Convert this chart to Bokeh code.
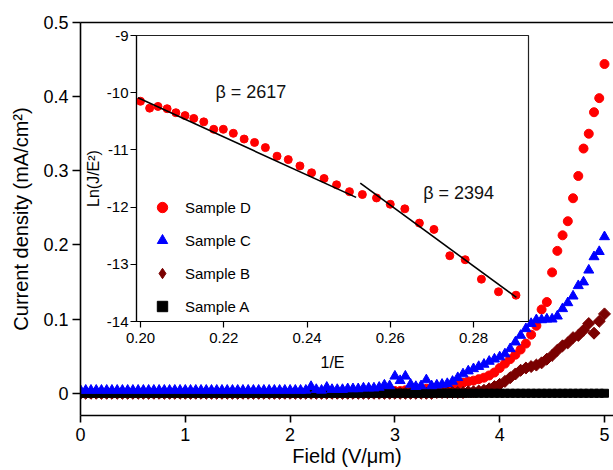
import math
from bokeh.plotting import figure
from bokeh.models import (GridBox, LinearAxis, FixedTicker, Legend, LegendItem,
                          Label, Range1d, ColumnDataSource)
from bokeh.embed import file_html
from bokeh.resources import INLINE

# ---------------- data ----------------
FIELD = [
    0.00, 0.05, 0.10, 0.15, 0.20, 0.25, 0.30, 0.35, 0.40, 0.45,
    0.50, 0.55, 0.60, 0.65, 0.70, 0.75, 0.80, 0.85, 0.90, 0.95,
    1.00, 1.05, 1.10, 1.15, 1.20, 1.25, 1.30, 1.35, 1.40, 1.45,
    1.50, 1.55, 1.60, 1.65, 1.70, 1.75, 1.80, 1.85, 1.90, 1.95,
    2.00, 2.05, 2.10, 2.15, 2.20, 2.25, 2.30, 2.35, 2.40, 2.45,
    2.50, 2.55, 2.60, 2.65, 2.70, 2.75, 2.80, 2.85, 2.90, 2.95,
    3.00, 3.05, 3.10, 3.15, 3.20, 3.25, 3.30, 3.35, 3.40, 3.45,
    3.50, 3.55, 3.60, 3.65, 3.70, 3.75, 3.80, 3.85, 3.90, 3.95,
    4.00, 4.05, 4.10, 4.15, 4.20, 4.25, 4.30, 4.35, 4.40, 4.45,
    4.50, 4.55, 4.60, 4.65, 4.70, 4.75, 4.80, 4.85, 4.90, 4.95,
    5.00,
]

N = None
SAMPLE_D = [
    0.000, 0.000, 0.000, 0.000, 0.000, 0.000, 0.000, 0.000, 0.000, 0.000,
    0.000, 0.000, 0.000, 0.000, 0.000, 0.000, 0.000, 0.000, 0.000, 0.000,
    0.000, 0.000, 0.000, 0.000, 0.000, 0.000, 0.000, 0.000, 0.000, 0.000,
    0.000, 0.000, 0.000, 0.000, 0.000, 0.000, 0.000, 0.000, 0.000, 0.000,
    0.000, 0.000, 0.000, 0.000, 0.000, 0.000, 0.000, 0.000, 0.000, 0.000,
    0.000, 0.000, 0.000, 0.000, 0.001, 0.001, 0.001, 0.001, 0.002, 0.002,
    0.003, 0.003, 0.004, 0.004, 0.005, 0.005, 0.006, 0.007, 0.008, 0.008,
    0.009, 0.010, 0.012, 0.014, 0.016, 0.017, 0.019, 0.021, 0.024, 0.028,
    0.034, 0.040, 0.046, 0.052, 0.059, 0.067, 0.079, 0.091, 0.113, 0.123,
    0.163, 0.192, 0.213, 0.232, 0.263, 0.293, 0.330, 0.350, 0.379, 0.398,
    0.444,
]
SAMPLE_C = [
    0.004, 0.004, 0.004, 0.004, 0.004, 0.004, 0.004, 0.004, 0.004, 0.004,
    0.004, 0.004, 0.004, 0.004, 0.004, 0.004, 0.004, 0.004, 0.004, 0.004,
    0.004, 0.004, 0.004, 0.004, 0.004, 0.004, 0.004, 0.004, 0.004, 0.004,
    0.004, 0.004, 0.004, 0.004, 0.004, 0.004, 0.004, 0.004, 0.004, 0.004,
    0.004, 0.004, 0.004, 0.004, 0.009, 0.005, 0.004, 0.008, 0.005, 0.005,
    0.005, 0.006, 0.006, 0.006, 0.007, 0.007, 0.007, 0.008, 0.011, 0.010,
    0.023, 0.017, 0.023, 0.012, 0.009, 0.010, 0.018, 0.010, 0.011, 0.012,
    0.013, 0.016, 0.021, 0.026, 0.030, 0.033, 0.036, 0.039, 0.043, 0.046,
    0.049, 0.053, 0.060, 0.069, 0.078, 0.087, 0.094, 0.099, 0.099, 0.100,
    0.100, 0.104, 0.114, 0.122, 0.131, 0.145, 0.150, 0.166, 0.184, 0.191,
    0.211,
]
SAMPLE_B = [
    N, N, N, N, N, N, N, N, N, N,
    N, N, N, N, N, N, N, N, N, N,
    N, N, N, N, N, N, N, N, N, N,
    N, N, N, N, N, N, N, N, N, N,
    N, N, N, N, N, N, N, N, N, N,
    N, N, N, N, N, N, N, N, N, N,
    N, N, N, N, N, N, N, N, 0.001, 0.001,
    0.001, 0.001, 0.001, 0.001, 0.002, 0.002, 0.003, 0.004, 0.006, 0.009,
    0.012, 0.016, 0.021, 0.026, 0.031, 0.034, 0.036, 0.038, 0.041, 0.046,
    0.051, 0.058, 0.064, 0.068, 0.075, 0.078, 0.085, 0.094, 0.081, 0.097,
    0.107,
]
SAMPLE_A = [
    N, N, N, N, N, N, N, N, N, N,
    N, N, N, N, N, N, N, N, N, N,
    N, N, N, N, N, N, N, N, N, N,
    N, N, N, N, N, N, N, N, N, N,
    N, N, N, N, N, N, N, N, N, N,
    N, N, N, N, N, N, N, N, N, N,
    N, N, N, N, N, N, N, N, 0.000, 0.000,
    0.000, 0.000, 0.000, 0.000, 0.000, 0.000, 0.000, 0.000, 0.000, 0.000,
    0.000, 0.000, 0.000, 0.000, 0.000, 0.000, 0.000, 0.000, 0.000, 0.000,
    0.000, 0.000, 0.000, 0.000, 0.000, 0.000, 0.000, 0.000, 0.000, 0.000,
    0.000,
]
SERIES_NAMES = ["Sample D", "Sample C", "Sample B", "Sample A"]

X_TICKS = [0, 1, 2, 3, 4, 5]
X_TICK_LABELS = ["0", "1", "2", "3", "4", "5"]
Y_TICKS = [0, 0.1, 0.2, 0.3, 0.4, 0.5]
Y_TICK_LABELS = ["0", "0.1", "0.2", "0.3", "0.4", "0.5"]

# inset: Fowler-Nordheim plot of Sample D
INV_E = [0.2000, 0.2022, 0.2042, 0.2064, 0.2085, 0.2107, 0.2128, 0.2152,
         0.2176, 0.2199, 0.2223, 0.2249, 0.2274, 0.2300, 0.2328, 0.2355,
         0.2383, 0.2411, 0.2441, 0.2471, 0.2502, 0.2533, 0.2567, 0.2600,
         0.2635, 0.2670, 0.2705, 0.2743, 0.2780, 0.2819, 0.2860, 0.2902]
LN_JE2 = [-10.15, -10.27, -10.24, -10.28, -10.35, -10.40, -10.45, -10.51,
          -10.64, -10.64, -10.71, -10.81, -10.87, -10.96, -11.11, -11.17,
          -11.28, -11.40, -11.50, -11.61, -11.73, -11.78, -11.84, -11.95,
          -12.03, -12.28, -12.39, -12.85, -12.92, -13.26, -13.48, -13.54]
FIT1_X = [0.1994, 0.2518]
FIT1_Y = [-10.09, -11.83]
FIT2_X = [0.2528, 0.2903]
FIT2_Y = [-11.58, -13.58]
BETA_LABELS = ["β = 2617", "β = 2394"]
BETA_X = [0.2180, 0.2679]
BETA_Y = [-9.99, -11.75]
IX_TICKS = [0.20, 0.22, 0.24, 0.26, 0.28]
IX_TICK_LABELS = ["0.20", "0.22", "0.24", "0.26", "0.28"]
IY_TICKS = [-14, -13, -12, -11, -10, -9]
IY_TICK_LABELS = ["-14", "-13", "-12", "-11", "-10", "-9"]

FONT = "Liberation Sans"
RED = "#FF0000"
BLUE = "#0000FF"
MAROON = "#7A0000"
BLACK = "#000000"

# ---------------- main figure ----------------
main = figure(width=613, height=470, x_range=Range1d(0, 5.086),
              y_range=Range1d(-0.03, 0.5), output_backend="svg",
              toolbar_location=None, min_border_left=80, min_border_top=22,
              min_border_right=0, min_border_bottom=55)
main.outline_line_color = None
main.xgrid.visible = False
main.ygrid.visible = False

src = ColumnDataSource(dict(E=FIELD, D=SAMPLE_D, C=SAMPLE_C, B=SAMPLE_B, A=SAMPLE_A))
rD = main.scatter("E", "D", source=src, marker="circle", size=9,
                  fill_color=RED, line_color=RED)
rB = main.scatter("E", "B", source=src, marker="square", size=8.5,
                  angle=math.pi / 4, fill_color=MAROON, line_color=MAROON)
rA = main.scatter("E", "A", source=src, marker="square", size=8,
                  fill_color=BLACK, line_color=BLACK)
rC = main.scatter("E", "C", source=src, marker="triangle", size=10,
                  fill_color=BLUE, line_color=BLUE)
# legend key for Sample B: legend glyphs are drawn unrotated, so the key
# uses the diamond marker (a single NaN point that is never drawn on the plot)
rB_key = main.scatter(x=[float("nan")], y=[float("nan")], marker="diamond",
                      size=12, fill_color=MAROON, line_color=MAROON)


def style_axis(ax, tick_size, label_size, tick_out, lw):
    ax.axis_line_color = "black"
    ax.axis_line_width = lw
    ax.major_tick_line_color = "black"
    ax.major_tick_line_width = lw
    ax.major_tick_out = tick_out
    ax.major_tick_in = 0
    ax.minor_tick_line_color = None
    ax.major_label_text_font = FONT
    ax.major_label_text_font_size = tick_size
    ax.major_label_text_color = "black"
    ax.axis_label_text_font = FONT
    ax.axis_label_text_font_size = label_size
    ax.axis_label_text_font_style = "normal"
    ax.axis_label_text_color = "black"


xa = main.xaxis[0]
xa.ticker = FixedTicker(ticks=X_TICKS)
xa.major_label_overrides = dict(zip(X_TICKS, X_TICK_LABELS))
xa.axis_label = "Field (V/μm)"
style_axis(xa, "18px", "20px", 7, 1.6)
xa.major_label_standoff = 5
xa.axis_label_standoff = 1

ya = main.yaxis[0]
ya.ticker = FixedTicker(ticks=Y_TICKS)
ya.major_label_overrides = dict(zip(Y_TICKS, Y_TICK_LABELS))
ya.axis_label = "Current density (mA/cm²)"
style_axis(ya, "18px", "20px", 8, 1.6)
ya.major_label_standoff = 4
ya.axis_label_standoff = 8

top = LinearAxis(ticker=FixedTicker(ticks=[]), axis_line_width=1.6,
                 major_tick_line_color=None, minor_tick_line_color=None,
                 major_label_text_font_size="0px", major_label_standoff=0)
main.add_layout(top, "above")

legend = Legend(items=[LegendItem(label=SERIES_NAMES[0], renderers=[rD]),
                       LegendItem(label=SERIES_NAMES[1], renderers=[rC]),
                       LegendItem(label=SERIES_NAMES[2], renderers=[rB_key]),
                       LegendItem(label=SERIES_NAMES[3], renderers=[rA])],
                location=(69, 96), orientation="vertical",
                border_line_color=None, background_fill_alpha=0,
                padding=0, margin=0, spacing=7, glyph_width=26,
                glyph_height=26, label_height=20, label_standoff=10,
                label_text_font=FONT, label_text_font_size="15px",
                label_text_color="black")
main.add_layout(legend)

# ---------------- inset figure ----------------
inset = figure(width=455, height=350, x_range=Range1d(0.19904, 0.29321),
               y_range=Range1d(-14, -9), output_backend="svg",
               toolbar_location=None, min_border_left=58, min_border_top=12,
               min_border_right=5, min_border_bottom=50)
inset.border_fill_alpha = 0
inset.background_fill_alpha = 0
inset.outline_line_color = "#222222"
inset.outline_line_width = 1.2
inset.xgrid.visible = False
inset.ygrid.visible = False

inset.scatter(INV_E, LN_JE2, marker="circle", size=8, fill_color=RED,
              line_color=RED)
inset.line(FIT1_X, FIT1_Y, line_color="black", line_width=1.6)
inset.line(FIT2_X, FIT2_Y, line_color="black", line_width=1.6)
for t, bx, by in zip(BETA_LABELS, BETA_X, BETA_Y):
    inset.add_layout(Label(x=bx, y=by, text=t, text_font=FONT,
                           text_font_size="18px", text_baseline="middle",
                           text_align="left", text_color="#111111"))

ixa = inset.xaxis[0]
ixa.ticker = FixedTicker(ticks=IX_TICKS)
ixa.major_label_overrides = dict(zip(IX_TICKS, IX_TICK_LABELS))
ixa.axis_label = "1/E"
style_axis(ixa, "15px", "16px", 6, 1.2)
ixa.major_label_standoff = 5
ixa.axis_label_standoff = 8

iya = inset.yaxis[0]
iya.ticker = FixedTicker(ticks=IY_TICKS)
iya.major_label_overrides = dict(zip(IY_TICKS, IY_TICK_LABELS))
iya.axis_label = "Ln(J/E²)"
style_axis(iya, "15px", "16px", 6, 1.2)
iya.major_label_standoff = 2
iya.axis_label_standoff = 2

grid = GridBox(children=[(main, 0, 0, 3, 3), (inset, 1, 1, 1, 1)],
               rows=["23px", "350px", "97px"],
               cols=["78px", "455px", "80px"], spacing=0)

open("out.html", "w").write(file_html(grid, INLINE))
